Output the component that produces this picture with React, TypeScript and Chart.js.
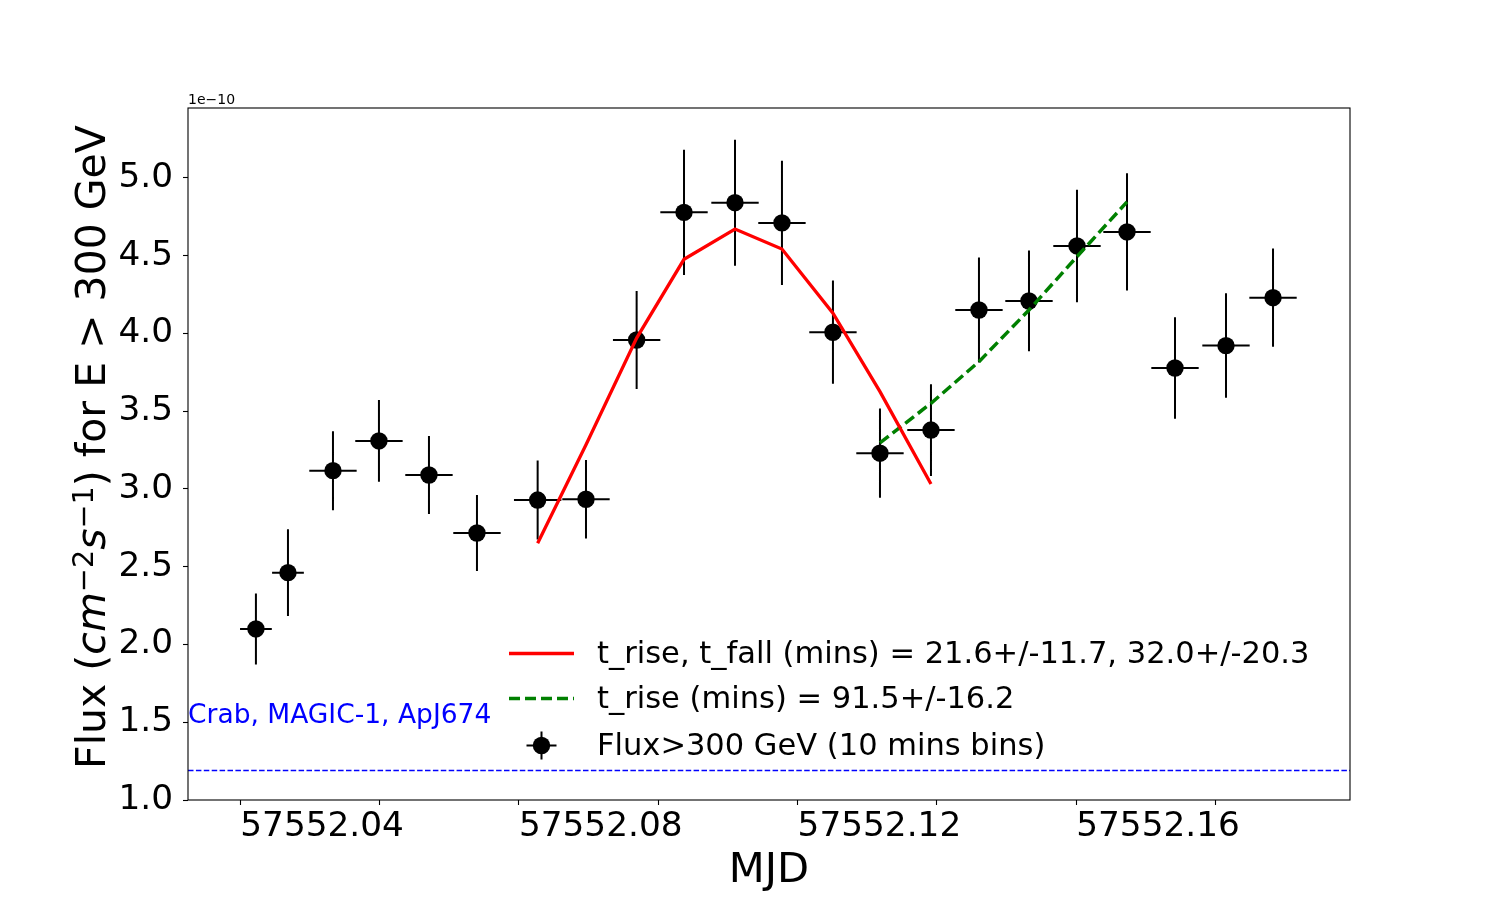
import React, { useEffect, useRef } from 'react';
import { Chart, registerables } from 'chart.js';
Chart.register(...registerables);

// light curve, flux in units of 1e-10 cm^-2 s^-1
const mjd = [
	57552.04225, 57552.04685, 57552.05331, 57552.05991, 57552.06709, 57552.07398, 57552.08269, 57552.08963,
	57552.0969, 57552.1037, 57552.11102, 57552.11776, 57552.12508, 57552.13183, 57552.13915, 57552.14604,
	57552.15322, 57552.16011, 57552.16729, 57552.17418, 57552.1815, 57552.18825,
];
const mjdErr = [
	0.00228, 0.00228, 0.0034, 0.0034, 0.0034, 0.0034, 0.0034, 0.0034, 0.0034, 0.0034, 0.0034, 0.0034, 0.0034,
	0.0034, 0.0034, 0.0034, 0.0034, 0.0034, 0.0034, 0.0034, 0.0034, 0.0034,
];
const flux = [
	2.1, 2.462, 3.118, 3.309, 3.09, 2.717, 2.929, 2.934, 3.958, 4.779, 4.841, 4.711, 4.008, 3.23, 3.379, 4.151,
	4.209, 4.563, 4.653, 3.778, 3.922, 4.23,
];
const fluxErr = [
	0.228, 0.279, 0.254, 0.263, 0.251, 0.244, 0.254, 0.253, 0.315, 0.403, 0.405, 0.399, 0.332, 0.287, 0.295, 0.338,
	0.324, 0.362, 0.377, 0.326, 0.336, 0.316,
];

// rise/fall fit (red) and rise fit (green)
const riseFallMjd = [57552.08269, 57552.08963, 57552.0969, 57552.1037, 57552.11102, 57552.11776, 57552.12508, 57552.13183, 57552.13915];
const riseFallFlux = [2.651, 3.285, 3.97, 4.477, 4.672, 4.543, 4.13, 3.626, 3.032];
const riseMjd = [57552.13183, 57552.13915, 57552.14604, 57552.15322, 57552.16011, 57552.16729];
const riseFlux = [3.296, 3.551, 3.819, 4.151, 4.494, 4.846];

const crabFlux = 1.19;

const xMin = 57552.0325;
const xMax = 57552.1993;
const xTicks = [57552.04, 57552.06, 57552.08, 57552.1, 57552.12, 57552.14, 57552.16, 57552.18];
const xTickLabels = ['57552.04', '', '57552.08', '', '57552.12', '', '57552.16', ''];
const yTicks = [1.0, 1.5, 2.0, 2.5, 3.0, 3.5, 4.0, 4.5, 5.0];

const legendLabels = [
	't_rise, t_fall (mins) = 21.6+/-11.7, 32.0+/-20.3',
	't_rise (mins) = 91.5+/-16.2',
	'Flux>300 GeV (10 mins bins)',
];

const FONT = "'DejaVu Sans'";

const decor = {
	id: 'decor',
	beforeDatasetsDraw(chart: any) {
		const { ctx, scales } = chart;
		const x = scales.x;
		const y = scales.y;
		ctx.save();
		ctx.strokeStyle = '#000';
		ctx.lineWidth = 2;
		ctx.beginPath();
		mjd.forEach((m, i) => {
			const px = x.getPixelForValue(m);
			const py = y.getPixelForValue(flux[i]);
			ctx.moveTo(x.getPixelForValue(m - mjdErr[i]), py);
			ctx.lineTo(x.getPixelForValue(m + mjdErr[i]), py);
			ctx.moveTo(px, y.getPixelForValue(flux[i] - fluxErr[i]));
			ctx.lineTo(px, y.getPixelForValue(flux[i] + fluxErr[i]));
		});
		ctx.stroke();
		ctx.restore();
	},
	afterDraw(chart: any) {
		const { ctx, chartArea: a } = chart;
		ctx.save();
		// frame
		ctx.strokeStyle = '#000';
		ctx.lineWidth = 1.1;
		ctx.strokeRect(a.left, a.top, a.right - a.left, a.bottom - a.top);

		// offset text
		ctx.fillStyle = '#000';
		ctx.textBaseline = 'alphabetic';
		ctx.textAlign = 'left';
		ctx.font = `14px ${FONT}`;
		ctx.fillText('1e\u221210', a.left, a.top - 4);

		// crab label
		ctx.fillStyle = '#0000ff';
		ctx.font = `26.5px ${FONT}`;
		ctx.fillText('Crab, MAGIC-1, ApJ674', a.left, 723);

		// x title
		ctx.fillStyle = '#000';
		ctx.textAlign = 'center';
		ctx.font = `41.7px ${FONT}`;
		ctx.fillText('MJD', (a.left + a.right) / 2, 882);

		// y title, mixed fonts
		const size = 41;
		const pieces = [
			{ t: 'Flux (', f: `${size}px ${FONT}`, dy: 0 },
			{ t: 'cm', f: `italic ${size}px ${FONT}`, dy: 0 },
			{ t: '\u22122', f: `${size * 0.7}px ${FONT}`, dy: -12 },
			{ t: 's', f: `italic ${size}px ${FONT}`, dy: 0 },
			{ t: '\u22121', f: `${size * 0.7}px ${FONT}`, dy: -12 },
			{ t: ') for E > 300 GeV', f: `${size}px ${FONT}`, dy: 0 },
		];
		let total = 0;
		const widths = pieces.map((p) => {
			ctx.font = p.f;
			const w = ctx.measureText(p.t).width;
			total += w;
			return w;
		});
		ctx.translate(105, 447);
		ctx.rotate(-Math.PI / 2);
		ctx.textAlign = 'left';
		let cx = -total / 2;
		pieces.forEach((p, i) => {
			ctx.font = p.f;
			ctx.fillText(p.t, cx, p.dy);
			cx += widths[i];
		});
		ctx.setTransform(1, 0, 0, 1, 0, 0);

		// legend
		const hx0 = 509;
		const hx1 = 574;
		const rows = [653.5, 698.5, 745.5];
		ctx.lineWidth = 3.3;
		ctx.strokeStyle = '#ff0000';
		ctx.beginPath();
		ctx.moveTo(hx0, rows[0]);
		ctx.lineTo(hx1, rows[0]);
		ctx.stroke();
		ctx.strokeStyle = '#008000';
		ctx.setLineDash([11, 5]);
		ctx.beginPath();
		ctx.moveTo(hx0, rows[1]);
		ctx.lineTo(hx1, rows[1]);
		ctx.stroke();
		ctx.setLineDash([]);
		const mx = (hx0 + hx1) / 2;
		ctx.strokeStyle = '#000';
		ctx.lineWidth = 2;
		ctx.beginPath();
		ctx.moveTo(mx - 15, rows[2]);
		ctx.lineTo(mx + 15, rows[2]);
		ctx.moveTo(mx, rows[2] - 14);
		ctx.lineTo(mx, rows[2] + 14);
		ctx.stroke();
		ctx.fillStyle = '#000';
		ctx.beginPath();
		ctx.arc(mx, rows[2], 8.7, 0, Math.PI * 2);
		ctx.fill();
		ctx.font = `30.5px ${FONT}`;
		ctx.textAlign = 'left';
		legendLabels.forEach((t, i) => ctx.fillText(t, 597, rows[i] + 9.5));
		ctx.restore();
	},
};

const App = () => {
	const canvasRef = useRef<HTMLCanvasElement>(null);

	useEffect(() => {
		if (!canvasRef.current) return;
		const chart = new Chart(canvasRef.current, {
			type: 'scatter',
			data: {
				datasets: [
					{
						data: riseFallMjd.map((m, i) => ({ x: m, y: riseFallFlux[i] })),
						showLine: true,
						borderColor: '#ff0000',
						borderWidth: 3.3,
						pointRadius: 0,
						tension: 0,
					},
					{
						data: riseMjd.map((m, i) => ({ x: m, y: riseFlux[i] })),
						showLine: true,
						borderColor: '#008000',
						borderWidth: 3.5,
						borderDash: [11, 5],
						pointRadius: 0,
						tension: 0,
					},
					{
						data: mjd.map((m, i) => ({ x: m, y: flux[i] })),
						backgroundColor: '#000',
						borderWidth: 0,
						pointRadius: 8.7,
					},
					{
						data: [
							{ x: xMin, y: crabFlux },
							{ x: xMax, y: crabFlux },
						],
						showLine: true,
						borderColor: '#0000ff',
						borderWidth: 1.5,
						borderDash: [5.5, 2.4],
						pointRadius: 0,
					},
				],
			},
			options: {
				animation: false,
				responsive: true,
				maintainAspectRatio: false,
				layout: { padding: { top: 108, right: 150, left: 0, bottom: 0 } },
				plugins: { legend: { display: false }, tooltip: { enabled: false } },
				scales: {
					x: {
						type: 'linear',
						min: xMin,
						max: xMax,
						afterBuildTicks: (s: any) => {
							s.ticks = xTicks.map((v) => ({ value: v }));
						},
						afterFit: (s: any) => {
							s.height = 100;
						},
						grid: { drawOnChartArea: false, drawTicks: true, tickLength: 5, tickColor: '#000', tickWidth: 1.1 },
						border: { display: false },
						ticks: {
							autoSkip: false,
							maxRotation: 0,
							minRotation: 0,
							align: 'start',
							padding: 2,
							color: '#000',
							font: { family: 'DejaVu Sans', size: 34.3 },
							callback: (_v: any, i: number) => xTickLabels[i],
						},
					},
					y: {
						type: 'linear',
						min: 1.0,
						max: 5.45,
						afterBuildTicks: (s: any) => {
							s.ticks = yTicks.map((v) => ({ value: v }));
						},
						afterFit: (s: any) => {
							s.width = 188;
						},
						grid: { drawOnChartArea: false, drawTicks: true, tickLength: 5, tickColor: '#000', tickWidth: 1.1 },
						border: { display: false },
						ticks: {
							autoSkip: false,
							padding: 10,
							color: '#000',
							font: { family: 'DejaVu Sans', size: 34.3 },
							callback: (v: any) => Number(v).toFixed(1),
						},
					},
				},
			},
			plugins: [decor],
		});
		return () => chart.destroy();
	}, []);

	return (
		<div style={{ position: 'fixed', left: 0, top: 0, width: 1500, height: 900, background: '#fff' }}>
			<canvas ref={canvasRef}></canvas>
		</div>
	);
};

export default App;
